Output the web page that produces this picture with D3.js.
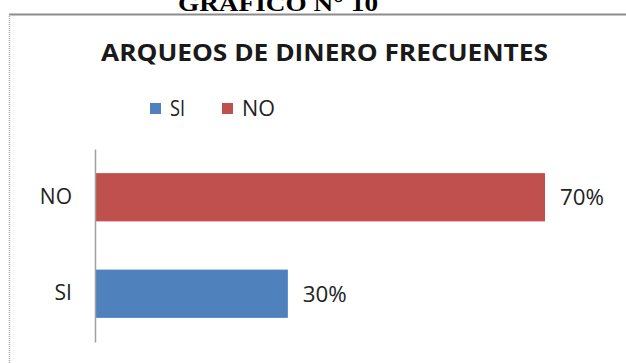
<!DOCTYPE html>
<html>
<head>
<meta charset="utf-8">
<script src="https://cdn.jsdelivr.net/npm/d3@7"></script>
<style>
  html, body { margin: 0; padding: 0; background: #fff; }
  svg { display: block; }
</style>
</head>
<body>
<script>
const categories = ["NO", "SI"];
const values = [0.70, 0.30];
const seriesColors = { "SI": "#4F81BD", "NO": "#C0504D" };
const legendItems = ["SI", "NO"];
const chartTitle = "ARQUEOS DE DINERO FRECUENTES";
const pageHeading = "GRAFICO N° 10";

const W = 626, H = 363;
const svg = d3.select("body").append("svg").attr("width", W).attr("height", H);

// heading above the chart (cut off at top, as in the source)
svg.append("text")
  .attr("x", 278).attr("y", 11)
  .attr("text-anchor", "middle")
  .attr("font-family", "Liberation Serif")
  .attr("font-weight", "bold")
  .attr("font-size", 23)
  .attr("textLength", 200).attr("lengthAdjust", "spacingAndGlyphs")
  .text(pageHeading);

// chart frame
svg.append("line").attr("x1", 9).attr("x2", W).attr("y1", 14.5).attr("y2", 14.5)
  .attr("stroke", "#8c8c8c").attr("stroke-width", 2);
svg.append("line").attr("x1", 9.5).attr("x2", 9.5).attr("y1", 14).attr("y2", H)
  .attr("stroke", "#a8a8a8").attr("stroke-width", 1.5).attr("stroke-dasharray", "1,1");

// title
svg.append("text")
  .attr("x", 101).attr("y", 61)
  .attr("font-family", "Open Sans")
  .attr("font-weight", "bold")
  .attr("font-size", 24)
  .attr("fill", "#1a1a1a")
  .attr("textLength", 447).attr("lengthAdjust", "spacingAndGlyphs")
  .text(chartTitle);

// legend
const legendX = { "SI": 150, "NO": 222 };
const legendW = { "SI": 15, "NO": 33 };
const lg = svg.append("g");
legendItems.forEach(k => {
  lg.append("rect").attr("x", legendX[k]).attr("y", 103).attr("width", 11).attr("height", 11)
    .attr("fill", seriesColors[k]);
  lg.append("text").attr("x", legendX[k] + 20).attr("y", 116)
    .attr("font-family", "Open Sans").attr("font-size", 21).attr("fill", "#222")
    .attr("textLength", legendW[k]).attr("lengthAdjust", "spacingAndGlyphs")
    .text(k);
});

// scales
const x = d3.scaleLinear().domain([0, 0.7]).range([95, 545]);
const y = d3.scaleBand().domain(categories).range([149, 342]).paddingInner(0.5).paddingOuter(0.25);

// bars
svg.selectAll("rect.bar").data(categories).enter().append("rect")
  .attr("class", "bar")
  .attr("x", x(0))
  .attr("y", d => y(d))
  .attr("width", (d, i) => x(values[i]) - x(0))
  .attr("height", y.bandwidth())
  .attr("fill", d => seriesColors[d]);

// axis
const axis = svg.append("g").attr("transform", `translate(${x(0)},0)`)
  .call(d3.axisLeft(y).tickSize(0).tickPadding(23));
axis.select(".domain").attr("stroke", "#a0a0a0").attr("stroke-width", 1.5);
axis.selectAll("text")
  .attr("font-family", "Open Sans").attr("font-size", 21).attr("fill", "#222");

// value labels
const fmt = d3.format(".0%");
svg.selectAll("text.val").data(categories).enter().append("text")
  .attr("class", "val")
  .attr("x", (d, i) => x(values[i]) + 15)
  .attr("y", d => y(d) + y.bandwidth() / 2)
  .attr("dy", "0.36em")
  .attr("font-family", "Open Sans").attr("font-size", 22).attr("fill", "#222")
  .attr("textLength", 44).attr("lengthAdjust", "spacingAndGlyphs")
  .text((d, i) => fmt(values[i]));
</script>
</body>
</html>
